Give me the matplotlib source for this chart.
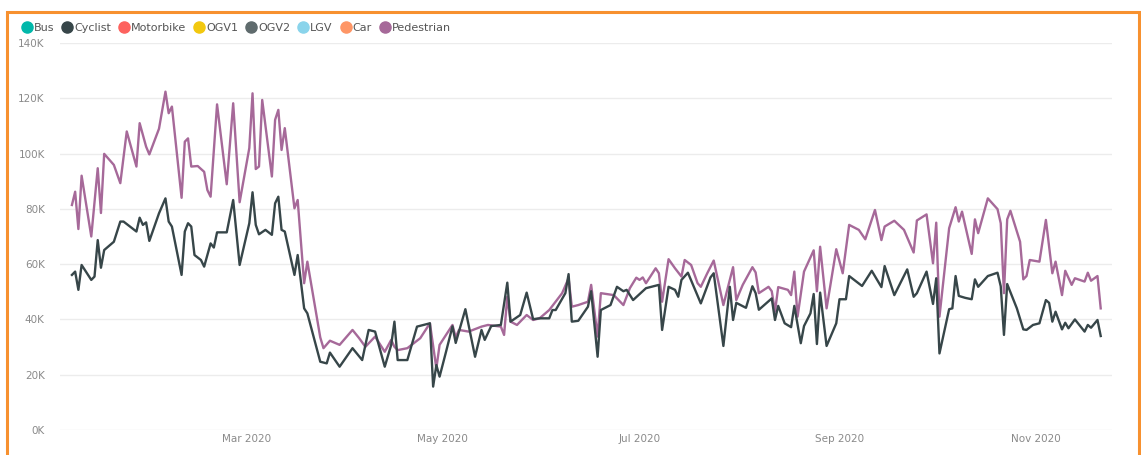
import numpy as np
import pandas as pd
import matplotlib
matplotlib.use('Agg')
from matplotlib import pyplot as plt
from matplotlib.lines import Line2D
from matplotlib.patches import Rectangle

# legend series (Power BI classic palette)
series_names = ['Bus', 'Cyclist', 'Motorbike', 'OGV1', 'OGV2', 'LGV', 'Car', 'Pedestrian']
series_colors = ['#01B8AA', '#374649', '#FD625E', '#F2C80F', '#5F6B6D', '#8AD4EB', '#FE9666', '#A66999']

# days counted from 1 Jan 2020, values in thousands
ped_days = [6, 7, 8, 9, 12, 14, 15, 16, 19, 21, 23, 26, 27, 29, 30, 33, 35, 36, 37, 40,
            41, 42, 43, 45, 47, 48, 49, 51, 54, 56, 58, 61, 62, 63, 64, 65, 68, 69, 70, 71,
            72, 75, 76, 78, 79, 83, 84, 86, 89, 93, 95, 97, 100, 103, 105, 106, 107, 110, 114, 117,
            119, 120, 124, 125, 126, 129, 133, 135, 139, 140, 141, 142, 144, 147, 149, 151, 154, 158, 160, 161,
            163, 166, 167, 169, 170, 174, 177, 179, 181, 182, 183, 184, 187, 188, 189, 191, 193, 195, 196, 198,
            200, 201, 203, 205, 208, 211, 212, 214, 217, 218, 219, 222, 223, 224, 225, 228, 229, 230, 231, 233,
            236, 237, 238, 240, 243, 245, 247, 250, 252, 255, 257, 258, 261, 264, 267, 268, 271, 273, 274, 275,
            278, 280, 281, 282, 285, 286, 287, 290, 293, 294, 295, 296, 297, 300, 301, 302, 303, 306, 308, 310,
            311, 313, 314, 316, 317, 320, 321, 322, 324, 325]
ped_vals = [81.4, 86.2, 72.7, 92.0, 70.0, 94.7, 78.5, 99.9, 95.9, 89.3, 108.0, 95.3, 111.0, 102.5, 99.7, 109.0, 122.4, 114.6, 117.0, 84.0,
            104.3, 105.5, 95.3, 95.5, 93.4, 86.8, 84.4, 117.8, 88.9, 118.2, 82.4, 102.0, 121.8, 94.4, 95.3, 119.4, 91.7, 112.2, 115.8, 101.3,
            109.2, 80.2, 83.2, 53.1, 60.9, 33.5, 29.6, 32.3, 30.8, 36.2, 33.3, 30.1, 33.8, 28.3, 32.6, 30.1, 28.9, 29.6, 33.2, 38.6,
            22.3, 30.8, 38.0, 33.5, 36.2, 35.6, 37.4, 38.0, 37.4, 34.4, 48.2, 39.2, 38.0, 41.6, 39.8, 40.4, 43.4, 49.5, 54.9, 44.6,
            45.2, 46.4, 52.5, 33.8, 49.5, 48.8, 45.2, 51.3, 55.1, 54.3, 55.2, 53.1, 58.5, 56.7, 46.4, 61.8, 58.5, 55.5, 61.5, 59.7,
            53.1, 51.8, 56.7, 61.3, 45.2, 58.9, 47.0, 52.5, 58.9, 57.0, 49.5, 51.8, 50.2, 42.8, 51.7, 50.7, 48.8, 57.3, 41.0, 57.3,
            65.0, 50.2, 66.3, 44.0, 65.4, 56.7, 74.2, 72.4, 69.0, 79.6, 68.7, 73.6, 75.7, 72.4, 64.2, 75.8, 78.0, 60.3, 75.0, 41.0,
            73.0, 80.6, 75.4, 79.0, 63.7, 76.2, 71.2, 83.8, 79.9, 74.8, 49.5, 76.2, 79.3, 68.1, 54.5, 55.7, 61.5, 60.9, 76.0, 56.7,
            60.9, 48.8, 57.6, 52.5, 54.9, 53.7, 56.9, 54.0, 55.7, 44.0]

cyc_days = [6, 7, 8, 9, 12, 13, 14, 15, 16, 19, 21, 22, 24, 26, 27, 28, 29, 30, 33, 35,
            36, 37, 40, 41, 42, 43, 44, 46, 47, 49, 50, 51, 54, 56, 58, 61, 62, 63, 64, 66,
            68, 69, 70, 71, 72, 75, 76, 78, 79, 83, 85, 86, 89, 93, 96, 98, 100, 103, 105, 106,
            107, 110, 113, 117, 118, 119, 120, 122, 124, 125, 128, 131, 133, 134, 136, 139, 141, 142, 145, 147,
            149, 151, 154, 155, 156, 159, 160, 161, 163, 166, 167, 169, 170, 173, 175, 177, 178, 180, 184, 188,
            189, 191, 193, 194, 195, 197, 199, 201, 204, 205, 208, 210, 211, 212, 215, 217, 218, 219, 223, 224,
            225, 227, 229, 230, 232, 233, 235, 236, 237, 238, 240, 243, 244, 246, 247, 251, 254, 257, 258, 261,
            265, 267, 268, 271, 273, 274, 275, 278, 279, 280, 281, 283, 285, 286, 287, 290, 293, 294, 295, 296,
            299, 301, 302, 304, 306, 308, 309, 310, 311, 313, 314, 315, 317, 320, 321, 322, 324, 325]
cyc_vals = [56.1, 57.3, 50.7, 59.7, 54.3, 55.5, 68.7, 58.7, 65.1, 68.1, 75.4, 75.4, 73.6, 71.8, 76.8, 74.2, 75.1, 68.4, 78.4, 83.8,
            75.4, 73.6, 56.1, 71.8, 74.8, 73.6, 63.3, 61.5, 59.1, 67.5, 66.0, 71.5, 71.5, 83.2, 59.7, 74.8, 86.0, 74.2, 70.8, 72.4,
            70.6, 82.0, 84.4, 72.4, 71.8, 56.1, 63.3, 44.0, 42.2, 24.7, 24.1, 28.0, 22.9, 29.6, 25.3, 36.2, 35.6, 22.9, 30.8, 39.2,
            25.3, 25.3, 37.4, 38.6, 15.7, 23.5, 19.3, 28.3, 37.5, 31.5, 43.7, 26.5, 36.2, 32.6, 37.6, 38.0, 53.3, 39.2, 41.6, 49.7,
            40.1, 40.4, 40.4, 43.4, 43.4, 49.5, 56.4, 39.2, 39.5, 44.6, 50.2, 26.5, 43.4, 45.2, 51.8, 50.2, 50.7, 47.0, 51.3, 52.5,
            36.2, 51.8, 50.7, 48.2, 54.3, 56.9, 51.3, 45.8, 55.2, 56.7, 30.4, 51.8, 39.8, 46.0, 44.2, 52.0, 49.5, 43.5, 47.6, 39.8,
            44.9, 38.6, 37.2, 44.9, 31.4, 37.6, 42.2, 49.2, 31.1, 49.7, 30.4, 38.6, 47.3, 47.3, 55.7, 52.1, 57.6, 51.7, 59.3, 48.8,
            58.1, 48.2, 49.5, 57.3, 45.6, 54.9, 27.7, 43.7, 44.0, 55.7, 48.5, 47.8, 47.3, 54.5, 51.8, 55.7, 56.9, 52.0, 34.4, 52.8,
            44.0, 36.4, 36.2, 38.0, 38.6, 47.0, 46.0, 39.2, 42.8, 36.4, 38.8, 36.8, 40.0, 35.6, 38.0, 37.0, 39.8, 34.0]

yticks = [0, 20, 40, 60, 80, 100, 120, 140]
ytick_labels = ['0K', '20K', '40K', '60K', '80K', '100K', '120K', '140K']
xtick_dates = ['2020-03-01', '2020-05-01', '2020-07-01', '2020-09-01', '2020-11-01']
xtick_labels = ['Mar 2020', 'May 2020', 'Jul 2020', 'Sep 2020', 'Nov 2020']

start = pd.Timestamp('2020-01-01')
ped_x = start + pd.to_timedelta(ped_days, unit='D')
cyc_x = start + pd.to_timedelta(cyc_days, unit='D')

fig = plt.figure(figsize=(11.41, 4.55), dpi=100)
ax = fig.add_axes([60 / 1141, 1 - 430 / 455, 1052 / 1141, 387 / 455])

ax.plot(cyc_x, cyc_vals, color=series_colors[1], lw=1.7, zorder=3)
ax.plot(ped_x, ped_vals, color=series_colors[7], lw=1.7, zorder=2)

ax.set_ylim(0, 140)
ax.set_xlim(start + pd.Timedelta(days=2.3), start + pd.Timedelta(days=328.5))
ax.set_yticks(yticks)
ax.set_yticklabels(ytick_labels)
ax.set_xticks(pd.to_datetime(xtick_dates))
ax.set_xticklabels(xtick_labels)
ax.grid(axis='y', color='#ececec', lw=1)
ax.set_axisbelow(True)
for s in ax.spines.values():
    s.set_visible(False)
ax.tick_params(axis='both', length=0, labelsize=7.5, colors='#8a8a8a')
ax.tick_params(axis='y', pad=11)
ax.tick_params(axis='x', pad=3)

handles = [Line2D([], [], marker='o', ls='', color=c, markersize=8) for c in series_colors]
fig.legend(handles, series_names, loc='upper left', bbox_to_anchor=(14 / 1141, 1 - 17 / 455),
           ncol=8, frameon=False, fontsize=8, labelcolor='#555555',
           handletextpad=0.0, columnspacing=0.55, handlelength=1.25, borderpad=0)

# orange frame round the visual
fig.patches.append(Rectangle((7 / 1141, -0.05), 1132 / 1141, 1.05 - 12 / 455,
                             transform=fig.transFigure, fill=False, ec='#F7912F', lw=2.2))

fig.savefig('out.png', dpi=100)
